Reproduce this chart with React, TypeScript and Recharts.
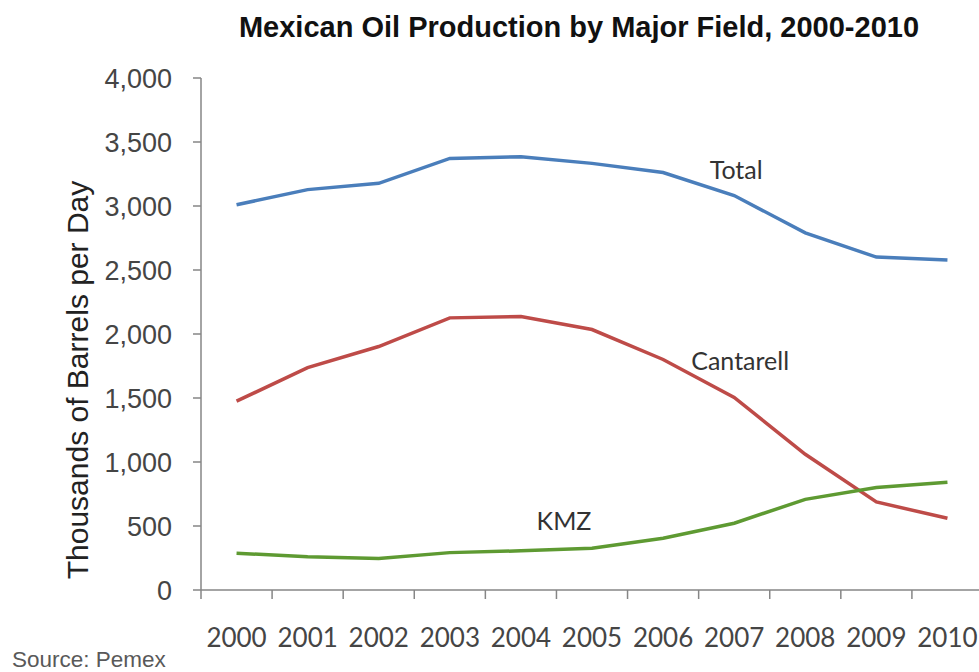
import { LineChart, Line, XAxis, YAxis } from "recharts";

const YEARS = ["2000", "2001", "2002", "2003", "2004", "2005", "2006", "2007", "2008", "2009", "2010"];
const TOTAL = [3010, 3128, 3177, 3372, 3385, 3333, 3262, 3082, 2790, 2601, 2578];
const CANTARELL = [1475, 1737, 1902, 2126, 2136, 2035, 1801, 1505, 1060, 688, 560];
const KMZ = [287, 260, 247, 292, 306, 326, 404, 522, 708, 800, 841];
const Y_TICKS = [0, 500, 1000, 1500, 2000, 2500, 3000, 3500, 4000];

const data = YEARS.map((year, i) => ({
  year,
  total: TOTAL[i],
  cantarell: CANTARELL[i],
  kmz: KMZ[i],
}));

const VIEW_W = 979;
const VIEW_H = 672;
const CHART_W = 990;
const MARGIN = { top: 78, right: 7, bottom: 0, left: 0 };
const YAXIS_W = 201;
const XAXIS_H = 82;
const PLOT_W = CHART_W - MARGIN.left - MARGIN.right - YAXIS_W;
const BAND = PLOT_W / YEARS.length;

const AXIS_GRAY = "#868686";
const LABEL_GRAY = "#454545";
const ARIAL = "'Liberation Sans', Arial, sans-serif";
const CALIBRI = "Lato, 'Open Sans', sans-serif";

function YearTick(props: any) {
  const { x, y, payload } = props;
  const bx = x - BAND / 2;
  return (
    <g>
      <line x1={bx} x2={bx} y1={y} y2={y + 9} stroke={AXIS_GRAY} strokeWidth={1.5} />
      <text x={x} y={y + 57} textAnchor="middle" fontFamily={CALIBRI} fontSize={26} fill={LABEL_GRAY}>
        {payload.value}
      </text>
    </g>
  );
}

// series name written next to one point of its line
function seriesLabel(text: string, atIndex: number, dx: number, dy: number) {
  return (props: any) => {
    if (props.index !== atIndex) return null;
    return (
      <text
        key={text}
        x={props.x + dx}
        y={props.y + dy}
        textAnchor="middle"
        fontFamily={CALIBRI}
        fontSize={25}
        fill="#333333"
      >
        {text}
      </text>
    );
  };
}

export default function App() {
  return (
    <div
      style={{
        position: "absolute",
        left: 0,
        top: 0,
        width: VIEW_W,
        height: VIEW_H,
        overflow: "hidden",
        background: "#ffffff",
      }}
    >
      <LineChart width={CHART_W} height={VIEW_H} data={data} margin={MARGIN}>
        <XAxis
          dataKey="year"
          interval={0}
          height={XAXIS_H}
          padding={{ left: BAND / 2, right: BAND / 2 }}
          stroke={AXIS_GRAY}
          strokeWidth={1.5}
          tickLine={false}
          tickSize={0}
          tickMargin={0}
          tick={<YearTick />}
        />
        <YAxis
          width={YAXIS_W}
          domain={[0, 4000]}
          ticks={Y_TICKS}
          interval={0}
          stroke={AXIS_GRAY}
          strokeWidth={1.5}
          tickSize={8}
          tickMargin={21}
          tickFormatter={(v: number) => v.toLocaleString("en-US")}
          tick={{ fontFamily: ARIAL, fontSize: 27, fill: LABEL_GRAY }}
        />
        <Line
          dataKey="total"
          stroke="#4A7EBB"
          strokeWidth={3.5}
          dot={false}
          isAnimationActive={false}
          label={seriesLabel("Total", 7, 2, -17)}
        />
        <Line
          dataKey="cantarell"
          stroke="#BE4B48"
          strokeWidth={3.5}
          dot={false}
          isAnimationActive={false}
          label={seriesLabel("Cantarell", 7, 6, -27)}
        />
        <Line
          dataKey="kmz"
          stroke="#5E9A32"
          strokeWidth={3.5}
          dot={false}
          isAnimationActive={false}
          label={seriesLabel("KMZ", 5, -28, -18)}
        />
      </LineChart>
      <svg
        width={VIEW_W}
        height={VIEW_H}
        style={{ position: "absolute", left: 0, top: 0, pointerEvents: "none" }}
      >
        <text x={579} y={37} textAnchor="middle" fontFamily={ARIAL} fontWeight="bold" fontSize={29} fill="#111111">
          Mexican Oil Production by Major Field, 2000-2010
        </text>
        <text
          transform="translate(88 380) rotate(-90)"
          textAnchor="middle"
          fontFamily={ARIAL}
          fontSize={30}
          fill="#222222"
        >
          Thousands of Barrels per Day
        </text>
        <text x={12} y={667} fontFamily={ARIAL} fontSize={22.5} fill="#595959">
          Source: Pemex
        </text>
      </svg>
    </div>
  );
}
